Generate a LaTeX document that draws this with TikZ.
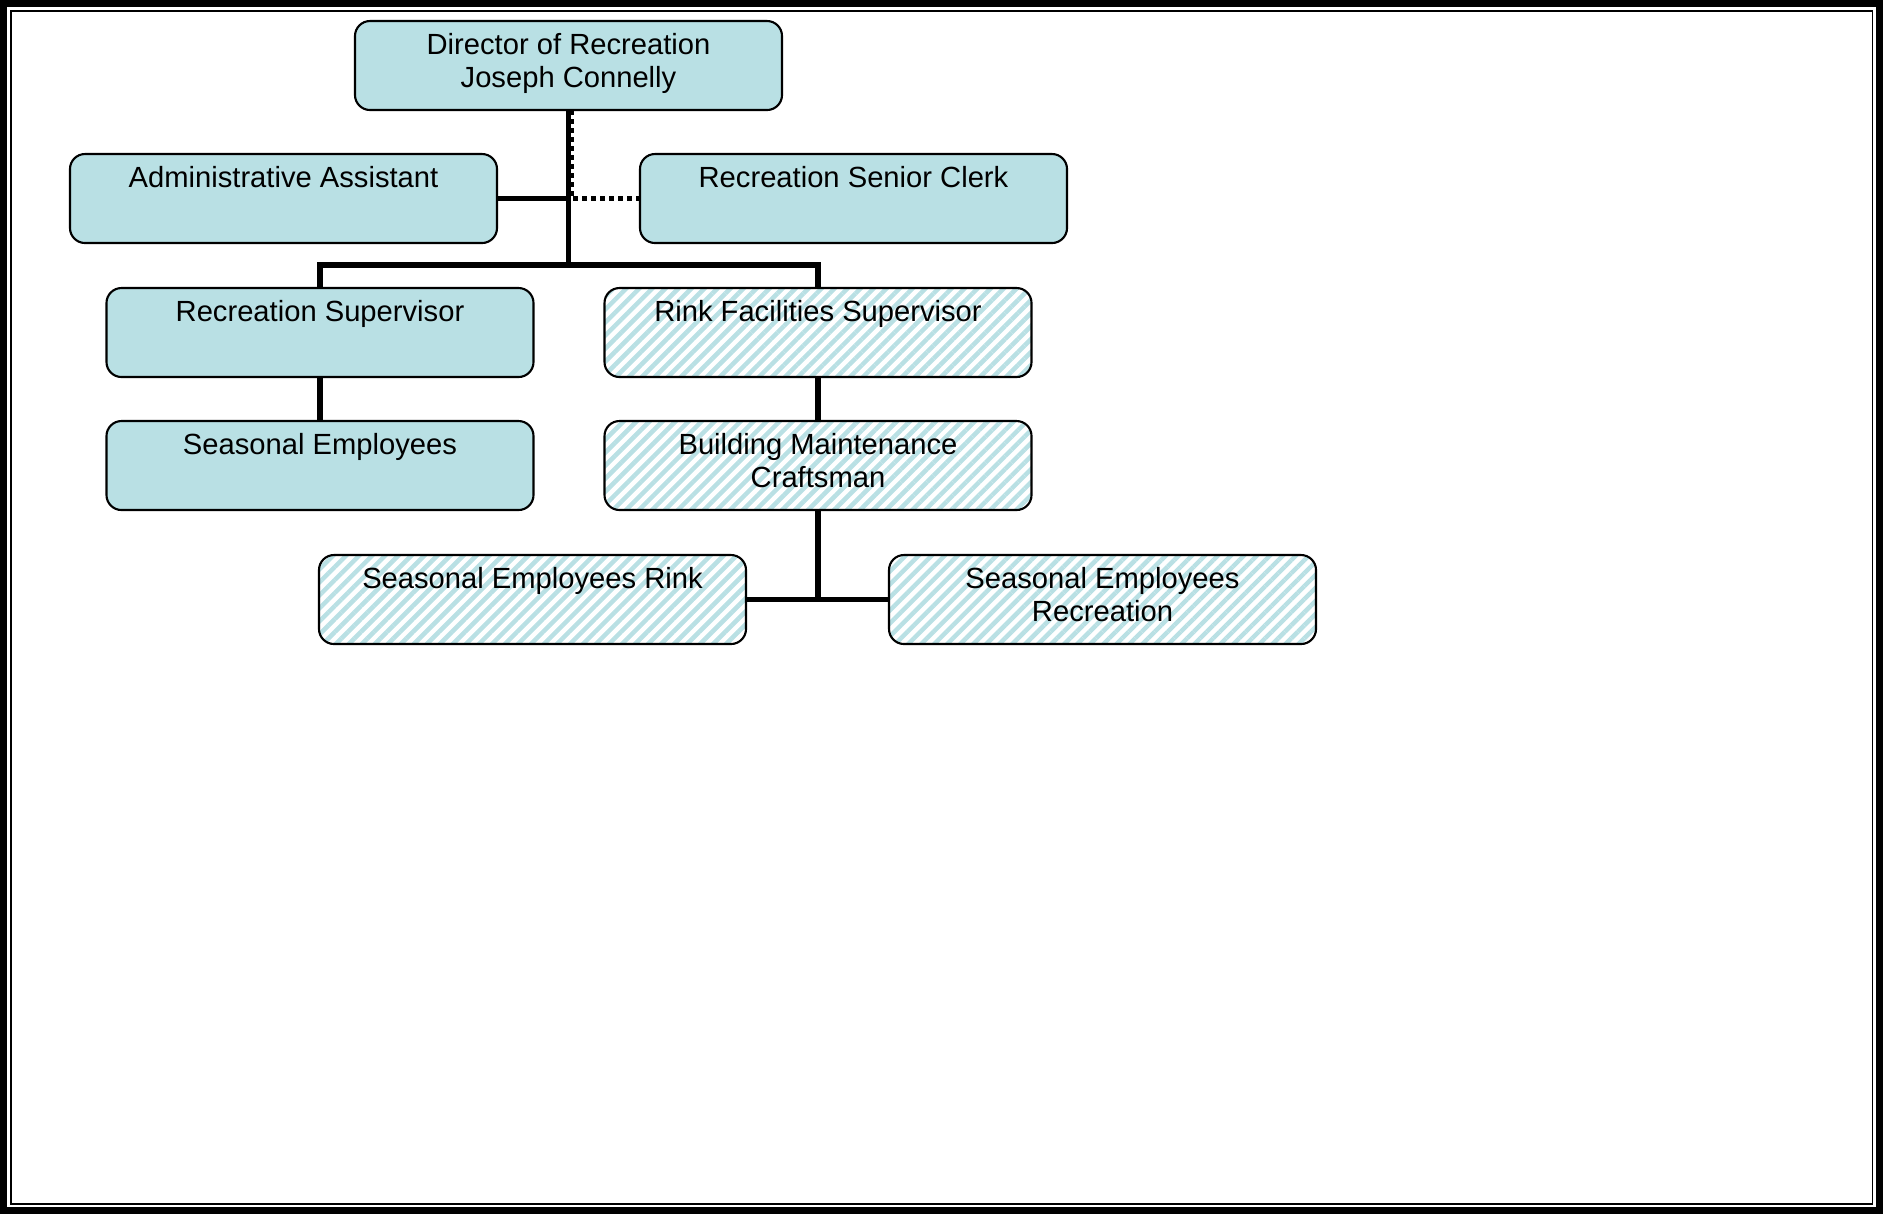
\documentclass[tikz,border=0pt]{standalone}
\usepackage{fontspec}
\setmainfont{Liberation Sans}
\usepackage{xcolor}
\usetikzlibrary{positioning,patterns.meta}
\definecolor{rcTeal}{HTML}{B9E0E4}
\definecolor{rcInk}{HTML}{000000}
\tikzset{
  % Plain staff box (teal)
  staffbox/.style={rectangle,rounded corners=0.15cm,
    minimum width=4.27cm,minimum height=0.89cm,inner sep=0pt,outer sep=0pt,
    align=center,draw=rcInk,line width=0.6pt,fill=rcTeal,
    font=\fontsize{8.3}{9.64}\selectfont},
  % Rink box (teal stripes)
  rinkbox/.style={staffbox,fill=none,
    pattern={Lines[angle=45,distance=0.092cm,line width=0.045cm]},
    pattern color=rcTeal},
  % Connectors
  orgline/.style={line width=1.6pt,color=rcInk},
  dotline/.style={line width=1.6pt,color=rcInk,dash pattern=on 0.05cm off 0.04cm},
  % Page frame
  frameout/.style={line width=0.07cm,color=rcInk},
  framein/.style={line width=0.015cm,color=rcInk},
}
\begin{document}
\begin{tikzpicture}
  \useasboundingbox (0,0) rectangle (18.83,-12.14);
  \draw[frameout] (0.035,-0.035) rectangle (18.795,-12.105);
  \draw[framein] (0.11,-0.11) rectangle (18.725,-12.04);

  \node[staffbox] (dir) at (5.685,-0.655) {Director of Recreation\\Joseph Connelly\strut};
  \node[staffbox,below=0.44cm of dir,xshift=-2.85cm] (admin) {Administrative Assistant\\\strut};
  \node[staffbox,right=1.43cm of admin] (clerk) {Recreation Senior Clerk\\\strut};
  \node[staffbox,below=0.45cm of admin,xshift=0.365cm] (recsup) {Recreation Supervisor\\\strut};
  \node[rinkbox,right=0.71cm of recsup] (rink) {Rink Facilities Supervisor\\\strut};
  \node[staffbox,below=0.44cm of recsup] (seas) {Seasonal Employees\\\strut};
  \node[rinkbox,below=0.44cm of rink] (bldg) {Building Maintenance\\Craftsman\strut};
  \node[rinkbox,below=0.45cm of seas,xshift=2.125cm] (serink) {Seasonal Employees Rink\\\strut};
  \node[rinkbox,right=1.43cm of serink] (serec) {Seasonal Employees\\Recreation\strut};

  \coordinate (bus) at (0,-2.65);
  \draw[dotline] ([xshift=0.03cm]dir.south) |- (clerk.west);
  \draw[orgline] (dir.south) -- (dir.south |- bus);
  \draw[orgline] (admin.east) -- (admin.east -| dir.south);
  \draw[orgline] (recsup.north) -- (recsup.north |- bus) -- (rink.north |- bus) -- (rink.north);
  \draw[orgline] (recsup) -- (seas);
  \draw[orgline] (rink) -- (bldg);
  \draw[orgline] (bldg.south) -- (bldg.south |- serink.east);
  \draw[orgline] (serink.east) -- (serec.west);
\end{tikzpicture}
\end{document}
